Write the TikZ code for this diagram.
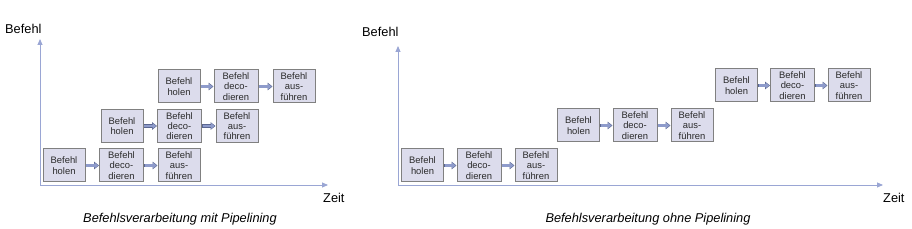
\documentclass[tikz,border=0pt]{standalone}
\usepackage{fontspec}
\setmainfont{Liberation Sans}
\usetikzlibrary{arrows.meta}
\definecolor{boxfill}{HTML}{DCDCEC}
\definecolor{boxline}{HTML}{808080}
\definecolor{axiscol}{HTML}{9AA6D4}
\definecolor{arrfill}{HTML}{8E9BCB}
\definecolor{arrline}{HTML}{5A6690}
\definecolor{txt}{HTML}{2A2A2A}
\tikzset{
  stagebox/.style={draw=boxline, fill=boxfill, line width=1pt, minimum width=42pt, minimum height=33pt,
    inner sep=0pt, align=center, text=txt, font=\fontsize{9.4}{10.3}\selectfont},
  widebox/.style={stagebox, minimum width=44pt},
  axisline/.style={draw=axiscol, line width=0.9pt, -{Triangle[length=6pt,width=5pt]}},
  axislabel/.style={font=\fontsize{12.8}{14}\selectfont, inner sep=0pt},
  captionlabel/.style={font=\fontsize{12.8}{14}\selectfont\itshape, inner sep=0pt},
  arrout/.style={draw=arrline, line width=3.8pt, -{Triangle[length=5pt,width=7.5pt,fill=arrline]}},
  arrin/.style={draw=arrfill, line width=2.4pt, shorten <=0.7pt, shorten >=0.8pt, -{Triangle[length=3.6pt,width=5.4pt,fill=arrfill]}},
}
\newcommand\blockarr[2]{\draw[arrout] (#1.east) -- (#2.west); \draw[arrin] (#1.east) -- (#2.west);}
\begin{document}
\begin{tikzpicture}[x=1pt, y=-1pt]
\useasboundingbox (0,0) rectangle (912,229);
% ---------- left diagram ----------
\coordinate (LO) at (40,185);
\coordinate (LY) at (40,39);
\coordinate (LX) at (328,185);
\draw[axisline] (LO) -- (LY);
\draw[axisline] (LO) -- (LX);
\node[axislabel, anchor=west] (Lbef) at (5,29) {Befehl};
\node[axislabel, anchor=west] (Lzeit) at (323,198) {Zeit};
\node[captionlabel] (Lcap) at (180,219) {Befehlsverarbeitung mit Pipelining};

\node[stagebox] (La1) at (64,165.5) {Befehl\\holen};
\node[widebox] (La2) at (121.5,165.5) {Befehl\\deco-\\dieren};
\node[stagebox] (La3) at (179,165.5) {Befehl\\aus-\\führen};
\node[stagebox] (Lb1) at (122,126) {Befehl\\holen};
\node[widebox] (Lb2) at (179.5,126) {Befehl\\deco-\\dieren};
\node[stagebox] (Lb3) at (237,126) {Befehl\\aus-\\führen};
\node[stagebox] (Lc1) at (179,86.5) {Befehl\\holen};
\node[widebox] (Lc2) at (236,86.5) {Befehl\\deco-\\dieren};
\node[stagebox] (Lc3) at (294,86.5) {Befehl\\aus-\\führen};
\blockarr{La1}{La2}\blockarr{La2}{La3}
\blockarr{Lb1}{Lb2}\blockarr{Lb2}{Lb3}
\blockarr{Lc1}{Lc2}\blockarr{Lc2}{Lc3}

% ---------- right diagram ----------
\coordinate (RO) at (398,185);
\coordinate (RY) at (398,46);
\coordinate (RX) at (883,185);
\draw[axisline] (RO) -- (RY);
\draw[axisline] (RO) -- (RX);
\node[axislabel, anchor=west] (Rbef) at (362,32) {Befehl};
\node[axislabel, anchor=west] (Rzeit) at (883,198) {Zeit};
\node[captionlabel] (Rcap) at (648,219) {Befehlsverarbeitung ohne Pipelining};

\node[stagebox] (Ra1) at (422.5,165.5) {Befehl\\holen};
\node[widebox] (Ra2) at (479,165.5) {Befehl\\deco-\\dieren};
\node[stagebox] (Ra3) at (536,165.5) {Befehl\\aus-\\führen};
\node[stagebox] (Rb1) at (578.5,125.5) {Befehl\\holen};
\node[widebox] (Rb2) at (635,125.5) {Befehl\\deco-\\dieren};
\node[stagebox] (Rb3) at (692,125.5) {Befehl\\aus-\\führen};
\node[stagebox] (Rc1) at (736.5,85.5) {Befehl\\holen};
\node[widebox] (Rc2) at (792.5,85.5) {Befehl\\deco-\\dieren};
\node[stagebox] (Rc3) at (849,85.5) {Befehl\\aus-\\führen};
\blockarr{Ra1}{Ra2}\blockarr{Ra2}{Ra3}
\blockarr{Rb1}{Rb2}\blockarr{Rb2}{Rb3}
\blockarr{Rc1}{Rc2}\blockarr{Rc2}{Rc3}
\end{tikzpicture}
\end{document}
